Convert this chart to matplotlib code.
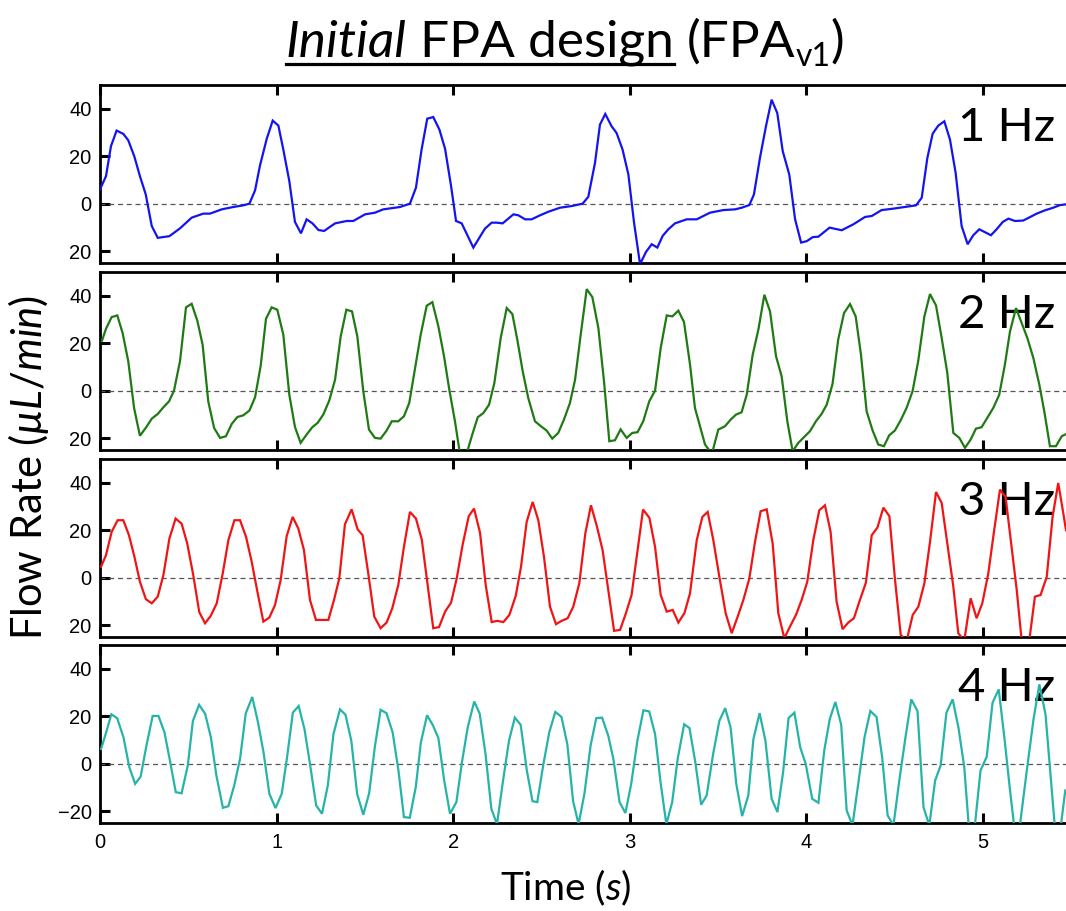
import matplotlib
matplotlib.use("Agg")
import matplotlib.pyplot as plt
from matplotlib.transforms import IdentityTransform
from matplotlib.lines import Line2D

plt.rcParams['font.family'] = ['Lato', 'DejaVu Sans']
plt.rcParams['mathtext.fontset'] = 'custom'
plt.rcParams['mathtext.rm'] = 'Lato'
plt.rcParams['mathtext.it'] = 'Lato:italic'
plt.rcParams['mathtext.bf'] = 'Lato:bold'

# ---------------- data: flow rate (uL/min) vs time (s) ----------------
t_1hz = [0.000, 0.034, 0.062, 0.094, 0.132, 0.160, 0.194, 0.226, 0.259, 0.293, 0.327, 0.393, 0.453, 0.519,
         0.585, 0.623, 0.689, 0.755, 0.812, 0.846, 0.878, 0.906, 0.944, 0.978, 1.010, 1.038, 1.072, 1.104,
         1.138, 1.170, 1.203, 1.237, 1.269, 1.331, 1.397, 1.434, 1.501, 1.557, 1.604, 1.699, 1.755, 1.789,
         1.821, 1.853, 1.887, 1.922, 1.954, 1.988, 2.016, 2.048, 2.114, 2.180, 2.218, 2.246, 2.280, 2.341,
         2.369, 2.407, 2.444, 2.492, 2.539, 2.605, 2.671, 2.733, 2.765, 2.803, 2.831, 2.861, 2.897, 2.925,
         2.959, 2.992, 3.024, 3.058, 3.092, 3.124, 3.156, 3.186, 3.218, 3.256, 3.322, 3.379, 3.454, 3.530,
         3.596, 3.634, 3.677, 3.703, 3.737, 3.771, 3.803, 3.835, 3.866, 3.903, 3.936, 3.970, 4.002, 4.036,
         4.068, 4.131, 4.200, 4.266, 4.332, 4.370, 4.426, 4.492, 4.558, 4.621, 4.653, 4.685, 4.715, 4.747,
         4.781, 4.813, 4.845, 4.879, 4.913, 4.945, 4.979, 5.045, 5.077, 5.112, 5.144, 5.181, 5.228, 5.304,
         5.351, 5.398, 5.436, 5.470]
q_1hz = [6.0, 11.6, 24.2, 30.8, 29.4, 26.7, 20.0, 11.6, 3.9, -9.4, -14.4, -13.7, -10.4, -5.9,
         -4.2, -4.2, -2.4, -1.4, -0.7, 0.0, 5.6, 16.1, 27.3, 35.0, 32.9, 22.8, 9.5, -7.7,
         -12.5, -6.6, -8.3, -11.1, -11.5, -8.3, -7.3, -7.3, -4.5, -3.8, -2.4, -1.4, 0.0, 6.7,
         22.8, 35.8, 36.5, 31.2, 23.1, 7.4, -7.3, -8.3, -18.5, -10.5, -8.0, -8.0, -8.3, -4.5,
         -4.9, -6.6, -6.6, -4.9, -3.4, -1.7, -1.0, 0.0, 2.9, 17.2, 33.3, 37.8, 32.6, 29.8,
         22.8, 12.3, -8.0, -25.5, -20.3, -17.1, -18.5, -13.6, -10.8, -8.3, -6.6, -6.6, -3.8, -2.7,
         -2.4, -1.7, -0.6, 3.9, 19.3, 32.6, 43.8, 38.2, 22.1, 12.3, -6.6, -16.4, -15.8, -14.1,
         -13.9, -10.1, -11.2, -8.7, -5.6, -5.2, -2.7, -2.1, -1.4, -0.7, 2.5, 19.3, 29.5, 32.9,
         34.7, 27.0, 13.0, -9.4, -17.1, -13.3, -10.8, -13.3, -10.8, -7.7, -6.3, -7.3, -7.1, -4.2,
         -2.8, -1.7, -0.6, -0.3]

t_2hz = [0.010, 0.034, 0.066, 0.098, 0.128, 0.160, 0.193, 0.226, 0.259, 0.293, 0.327, 0.359, 0.391, 0.419,
         0.453, 0.487, 0.519, 0.551, 0.581, 0.613, 0.646, 0.680, 0.713, 0.746, 0.778, 0.811, 0.846, 0.878,
         0.910, 0.940, 0.972, 1.004, 1.038, 1.072, 1.104, 1.136, 1.170, 1.202, 1.232, 1.264, 1.298, 1.331,
         1.363, 1.395, 1.427, 1.457, 1.491, 1.523, 1.557, 1.589, 1.623, 1.652, 1.689, 1.721, 1.751, 1.784,
         1.816, 1.850, 1.882, 1.916, 1.948, 1.978, 2.010, 2.038, 2.076, 2.108, 2.139, 2.171, 2.203, 2.233,
         2.269, 2.303, 2.335, 2.363, 2.393, 2.425, 2.463, 2.497, 2.529, 2.561, 2.595, 2.627, 2.661, 2.690,
         2.722, 2.756, 2.788, 2.822, 2.854, 2.884, 2.916, 2.948, 2.982, 3.014, 3.044, 3.076, 3.110, 3.143,
         3.175, 3.209, 3.241, 3.275, 3.307, 3.341, 3.369, 3.426, 3.454, 3.469, 3.501, 3.539, 3.571, 3.601,
         3.633, 3.662, 3.696, 3.728, 3.762, 3.794, 3.828, 3.860, 3.892, 3.922, 3.954, 3.992, 4.020, 4.054,
         4.086, 4.115, 4.148, 4.180, 4.213, 4.247, 4.279, 4.309, 4.341, 4.375, 4.407, 4.439, 4.469, 4.501,
         4.533, 4.567, 4.601, 4.633, 4.668, 4.700, 4.734, 4.766, 4.798, 4.832, 4.866, 4.898, 4.930, 4.960,
         4.992, 5.026, 5.058, 5.092, 5.124, 5.153, 5.187, 5.219, 5.251, 5.285, 5.319, 5.347, 5.379, 5.413,
         5.446, 5.470]
q_2hz = [20.8, 26.1, 31.0, 31.7, 24.3, 12.4, -7.3, -19.0, -15.7, -11.8, -9.8, -7.0, -4.5, 0.0,
         12.4, 35.1, 36.6, 29.5, 19.4, -4.5, -15.7, -19.9, -19.2, -14.0, -11.1, -10.4, -8.4, -2.8,
         10.5, 30.3, 35.1, 34.1, 23.6, -1.7, -15.3, -22.0, -18.5, -15.4, -13.6, -10.1, -4.2, 4.6,
         22.9, 34.1, 33.4, 22.9, -0.3, -16.4, -19.9, -20.2, -16.8, -12.9, -12.9, -10.8, -5.2, 9.5,
         23.6, 35.8, 37.3, 27.1, 14.5, 0.4, -12.9, -26.5, -26.5, -18.5, -11.2, -9.4, -5.9, 3.2,
         22.2, 34.8, 32.3, 21.5, 8.4, -3.1, -12.9, -15.0, -16.8, -20.2, -17.8, -12.2, -5.2, 4.6,
         23.6, 42.8, 39.4, 26.4, 3.9, -21.3, -20.9, -16.3, -19.9, -17.8, -17.5, -12.9, -4.5, 0.0,
         18.0, 31.7, 31.3, 33.7, 28.9, 11.0, -7.3, -22.7, -25.5, -25.5, -16.4, -15.0, -12.2, -10.1,
         -9.1, -1.7, 15.2, 25.7, 40.4, 33.4, 14.5, 6.0, -12.9, -25.5, -22.0, -19.2, -17.1, -12.9,
         -9.8, -5.9, 2.8, 21.5, 32.7, 36.5, 31.3, 15.2, -8.7, -16.8, -22.7, -23.4, -18.8, -16.8,
         -12.6, -7.3, -0.3, 12.4, 31.3, 40.7, 35.9, 22.2, 7.4, -17.8, -19.9, -24.1, -20.6, -16.0,
         -15.4, -11.2, -7.3, -1.7, 11.0, 25.0, 34.8, 28.5, 22.2, 13.8, 2.5, -8.7, -23.4, -23.4,
         -19.2, -18.3]

t_3hz = [0.006, 0.034, 0.066, 0.100, 0.132, 0.164, 0.194, 0.226, 0.260, 0.293, 0.327, 0.359, 0.393, 0.428,
         0.462, 0.494, 0.528, 0.562, 0.595, 0.627, 0.661, 0.695, 0.727, 0.761, 0.793, 0.827, 0.859, 0.893,
         0.925, 0.959, 0.991, 1.023, 1.057, 1.091, 1.123, 1.155, 1.189, 1.223, 1.293, 1.325, 1.355, 1.387,
         1.425, 1.459, 1.487, 1.519, 1.553, 1.589, 1.623, 1.655, 1.689, 1.721, 1.755, 1.789, 1.822, 1.853,
         1.887, 1.920, 1.954, 1.988, 2.020, 2.054, 2.088, 2.118, 2.152, 2.184, 2.218, 2.250, 2.284, 2.318,
         2.354, 2.384, 2.416, 2.450, 2.482, 2.514, 2.548, 2.582, 2.614, 2.648, 2.680, 2.714, 2.748, 2.780,
         2.812, 2.846, 2.878, 2.911, 2.945, 2.978, 3.010, 3.044, 3.075, 3.111, 3.143, 3.175, 3.209, 3.243,
         3.275, 3.309, 3.341, 3.379, 3.411, 3.441, 3.473, 3.507, 3.543, 3.577, 3.611, 3.643, 3.677, 3.709,
         3.741, 3.775, 3.809, 3.841, 3.875, 3.907, 3.941, 3.973, 4.005, 4.039, 4.073, 4.105, 4.137, 4.171,
         4.205, 4.237, 4.269, 4.303, 4.337, 4.370, 4.402, 4.436, 4.470, 4.502, 4.534, 4.568, 4.602, 4.634,
         4.668, 4.700, 4.734, 4.766, 4.798, 4.832, 4.860, 4.894, 4.930, 4.964, 4.996, 5.030, 5.062, 5.096,
         5.128, 5.162, 5.191, 5.219, 5.262, 5.294, 5.326, 5.361, 5.394, 5.426, 5.455, 5.470]
q_3hz = [4.6, 9.5, 19.3, 24.2, 24.2, 17.9, 9.1, -1.7, -9.1, -10.8, -8.0, 1.1, 16.5, 24.9,
         22.8, 14.4, 1.1, -14.5, -19.2, -16.1, -10.8, 1.8, 15.8, 24.2, 24.2, 17.2, 6.7, -6.6,
         -18.5, -16.8, -11.5, -1.0, 17.5, 25.6, 20.7, 11.6, -9.4, -17.8, -17.8, -9.4, -0.3, 22.5,
         28.8, 20.3, 17.9, 1.8, -16.4, -21.3, -18.9, -12.9, -3.1, 13.0, 27.7, 24.9, 16.1, -1.7,
         -21.3, -20.8, -14.3, -10.5, -0.3, 14.1, 25.9, 29.1, 18.9, -3.1, -18.7, -18.2, -18.7, -15.7,
         -7.7, 4.6, 23.5, 31.9, 24.2, 8.8, -12.2, -19.6, -18.2, -17.1, -12.2, -2.4, 18.6, 30.5,
         22.1, 11.6, -5.2, -22.4, -22.0, -15.0, -7.3, 11.6, 28.7, 25.2, 13.0, -7.3, -14.3, -13.6,
         -18.9, -15.0, -6.6, 15.8, 25.6, 27.7, 15.8, 0.4, -15.0, -23.4, -16.4, -9.4, -0.3, 15.1,
         28.0, 28.8, 14.4, -15.0, -25.5, -20.6, -15.7, -9.4, -1.7, 15.8, 28.4, 30.5, 19.3, -10.1,
         -21.7, -18.9, -17.1, -9.4, -2.1, 17.9, 21.1, 29.5, 25.9, -1.0, -24.1, -26.5, -15.7, -12.2,
         -2.4, 15.1, 36.1, 31.5, 14.4, -3.8, -23.4, -26.5, -8.7, -17.1, -10.8, 1.8, 19.3, 37.1,
         34.0, 13.0, -5.2, -26.5, -26.5, -8.0, -7.3, 0.4, 25.6, 39.9, 27.0, 20.0]

t_4hz = [0.006, 0.035, 0.064, 0.097, 0.133, 0.166, 0.199, 0.230, 0.263, 0.298, 0.331, 0.365, 0.396, 0.429,
         0.462, 0.497, 0.526, 0.561, 0.595, 0.628, 0.659, 0.696, 0.727, 0.760, 0.793, 0.825, 0.862, 0.893,
         0.926, 0.959, 0.994, 1.029, 1.058, 1.092, 1.125, 1.158, 1.189, 1.224, 1.257, 1.290, 1.322, 1.359,
         1.390, 1.423, 1.456, 1.491, 1.524, 1.556, 1.589, 1.622, 1.657, 1.690, 1.721, 1.754, 1.788, 1.817,
         1.852, 1.885, 1.916, 1.949, 1.982, 2.018, 2.051, 2.082, 2.119, 2.150, 2.183, 2.216, 2.248, 2.281,
         2.316, 2.349, 2.382, 2.417, 2.449, 2.476, 2.511, 2.544, 2.578, 2.613, 2.646, 2.679, 2.710, 2.743,
         2.778, 2.810, 2.843, 2.878, 2.907, 2.942, 2.975, 3.008, 3.043, 3.077, 3.110, 3.143, 3.174, 3.207,
         3.240, 3.271, 3.308, 3.338, 3.371, 3.404, 3.435, 3.472, 3.507, 3.540, 3.571, 3.603, 3.636, 3.671,
         3.700, 3.735, 3.768, 3.803, 3.836, 3.868, 3.899, 3.932, 3.965, 3.996, 4.033, 4.068, 4.101, 4.132,
         4.164, 4.197, 4.228, 4.261, 4.296, 4.329, 4.362, 4.397, 4.429, 4.460, 4.493, 4.526, 4.561, 4.594,
         4.629, 4.663, 4.696, 4.729, 4.760, 4.793, 4.828, 4.861, 4.894, 4.919, 4.954, 4.986, 5.021, 5.054,
         5.089, 5.122, 5.151, 5.176, 5.209, 5.248, 5.286, 5.319, 5.354, 5.377, 5.406, 5.441, 5.466]
q_4hz = [6.2, 13.2, 20.8, 19.2, 11.1, -1.5, -8.5, -5.5, 7.6, 20.1, 20.1, 13.2, 1.3, -12.0,
         -12.5, -0.8, 18.0, 24.8, 21.1, 11.1, -5.0, -18.6, -17.9, -9.2, 2.0, 21.1, 28.1, 18.0,
         4.8, -12.7, -18.7, -12.7, 2.0, 21.5, 24.3, 14.5, -0.1, -17.6, -21.1, -9.2, 12.5, 22.9,
         20.6, 9.7, -12.7, -21.5, -12.5, 6.9, 22.7, 21.3, 13.2, -2.9, -22.5, -22.8, -9.9, 9.0,
         20.4, 16.2, 10.8, -7.1, -21.1, -16.2, 1.3, 15.2, 26.2, 21.1, 4.1, -19.0, -25.5, -7.8,
         9.7, 19.4, 16.4, -2.9, -15.8, -16.2, -0.1, 13.2, 21.8, 19.7, 8.3, -15.8, -25.5, -12.7,
         7.6, 19.2, 19.4, 11.8, 2.0, -16.2, -20.8, -8.5, 9.7, 22.5, 22.0, 12.5, -7.8, -25.5,
         -16.2, 2.0, 16.6, 15.0, 0.6, -17.3, -13.4, 4.1, 18.0, 23.4, 15.2, -8.5, -22.1, -13.4,
         10.4, 21.3, 9.7, -14.8, -20.4, -3.6, 19.2, 21.5, 6.9, -0.1, -14.8, -16.5, 5.5, 18.7,
         26.0, 16.4, -19.7, -26.0, -7.1, 11.1, 22.2, 19.7, 2.7, -21.8, -26.0, -7.1, 11.1, 27.1,
         22.2, -18.3, -26.0, -7.1, -0.8, 21.5, 27.1, 15.2, -1.5, -26.0, -26.0, -2.9, 2.9, 25.7,
         31.3, 10.4, -9.9, -26.0, -26.0, -2.9, 18.7, 33.4, 20.8, -0.1, -26.0, -26.0, -11.3]

panel_labels = ["1 Hz", "2 Hz", "3 Hz", "4 Hz"]
line_colors = ["#1414f0", "#1f7a14", "#f01414", "#26b3a8"]
x_ticks = [0, 1, 2, 3, 4, 5]
y_ticks = [-20, 0, 20, 40]
y_ticklabels_upper = ["20", "0", "20", "40"]
y_ticklabels_lower = ["\u221220", "0", "20", "40"]

series = [(t_1hz, q_1hz), (t_2hz, q_2hz), (t_3hz, q_3hz), (t_4hz, q_4hz)]

# ---------------- layout (pixel based) ----------------
W, H = 1066, 911
fig = plt.figure(figsize=(W / 100, H / 100), dpi=100)

x0_px = 100.0
px_per_s = 176.6
x_max = 5.65
panel_tops = [85, 272, 459, 645]
panel_h = 178

for i, (tt, qq) in enumerate(series):
    top = panel_tops[i]
    ax = fig.add_axes([x0_px / W, 1 - (top + panel_h) / H, px_per_s * x_max / W, panel_h / H])
    ax.plot(tt, qq, color=line_colors[i], lw=1.6, zorder=3, solid_joinstyle='miter')
    ax.axhline(0, color='#555555', lw=0.9, ls=(0, (4, 3)), zorder=2)
    ax.set_xlim(0, x_max)
    ax.set_ylim(-25, 50)
    ax.set_xticks(x_ticks)
    ax.set_yticks(y_ticks)
    ax.set_yticklabels(y_ticklabels_lower if i == 3 else y_ticklabels_upper)
    for side in ['top', 'bottom', 'left', 'right']:
        ax.spines[side].set_linewidth(2.0)
    ax.tick_params(direction='in', length=7, width=2.2, top=True, bottom=True,
                   left=True, right=False, labelsize=14.5, pad=6,
                   labelfontfamily='Liberation Sans', colors='black')
    ax.tick_params(axis='x', labelbottom=(i == 3), pad=7)
    ax.text(1055 / W, 1 - (top + 56) / H, panel_labels[i], transform=fig.transFigure,
            ha='right', va='baseline', fontsize=34, color='black', zorder=1)

# axis titles
fig.text(29 / W, 1 - 467 / H, "Flow Rate ($\\mathit{\u00b5L/min}$)", rotation=90,
         ha='center', va='center', fontsize=30)
fig.text(566 / W, 1 - 900 / H, "Time ($\\mathit{s}$)", ha='center', va='baseline', fontsize=28)

# title: italic word, underline under the first part, subscripted version tag
renderer = fig.canvas.get_renderer()
title_size = 37
base_y = H - 57  # display coords (origin bottom-left)
pieces = [("Initial", dict(fontsize=title_size, style='italic'), 0),
          ("FPA design", dict(fontsize=title_size), 0),
          ("(FPA", dict(fontsize=title_size), 0),
          ("v1", dict(fontsize=title_size * 0.62), -9),
          (")", dict(fontsize=title_size), 0)]
gaps = [0.26, 0.26, 0.0, 0.0]
arts = []
for s, props, dy in pieces:
    a = fig.text(0, 0, s, transform=IdentityTransform(), ha='left', va='baseline', **props)
    arts.append(a)
widths = [a.get_window_extent(renderer).width for a in arts]
em = title_size * 100 / 72
total = sum(widths) + sum(g * em for g in gaps)
x = 565 - total / 2
xs = []
for k, a in enumerate(arts):
    a.set_position((x, base_y + pieces[k][2]))
    xs.append(x)
    x += widths[k] + (gaps[k] * em if k < len(gaps) else 0)
ul_start = xs[0]
ul_end = xs[1] + widths[1]
fig.add_artist(Line2D([ul_start, ul_end], [base_y - 7, base_y - 7], transform=IdentityTransform(),
                      color='black', lw=2.3))

fig.savefig("out.png", dpi=100)
